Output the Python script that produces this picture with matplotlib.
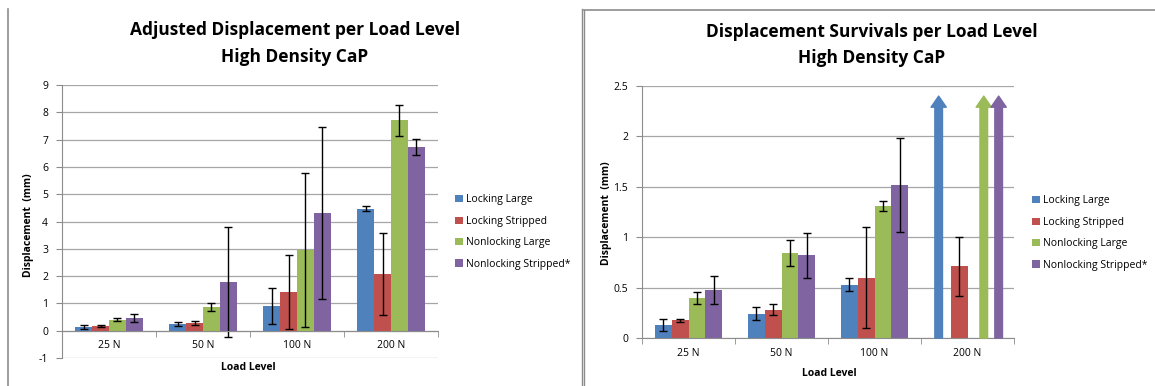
import matplotlib.pyplot as plt
import numpy as np
from matplotlib.lines import Line2D

# Data
loads = ['25 N', '50 N', '100 N', '200 N']
series = ['Locking Large', 'Locking Stripped', 'Nonlocking Large', 'Nonlocking Stripped*']
colors = ['#4F81BD', '#C0504D', '#9BBB59', '#8064A2']

# adjusted displacement (mm) and error
adj_locking_large = [0.15, 0.24, 0.90, 4.47]
adj_locking_stripped = [0.18, 0.28, 1.43, 2.08]
adj_nonlocking_large = [0.41, 0.87, 2.95, 7.70]
adj_nonlocking_stripped = [0.48, 1.78, 4.30, 6.73]
adj_err_locking_large = [0.07, 0.07, 0.66, 0.09]
adj_err_locking_stripped = [0.03, 0.07, 1.35, 1.50]
adj_err_nonlocking_large = [0.05, 0.14, 2.83, 0.57]
adj_err_nonlocking_stripped = [0.15, 2.02, 3.15, 0.28]

# displacement survivals (mm); None = arrow (survived past scale)
surv_locking_large = [0.13, 0.24, 0.53, None]
surv_locking_stripped = [0.175, 0.28, 0.60, 0.71]
surv_nonlocking_large = [0.40, 0.845, 1.31, None]
surv_nonlocking_stripped = [0.475, 0.82, 1.515, None]
surv_err_locking_large = [0.06, 0.066, 0.066, 0]
surv_err_locking_stripped = [0.017, 0.055, 0.50, 0.29]
surv_err_nonlocking_large = [0.06, 0.13, 0.05, 0]
surv_err_nonlocking_stripped = [0.14, 0.225, 0.465, 0]
arrow_top = 2.4

left_yticks = [-1, 0, 1, 2, 3, 4, 5, 6, 7, 8, 9]
right_yticks = [0, 0.5, 1, 1.5, 2, 2.5]
right_ylabels = ['0', '0.5', '1', '1.5', '2', '2.5']

adj_vals = [adj_locking_large, adj_locking_stripped, adj_nonlocking_large, adj_nonlocking_stripped]
adj_errs = [adj_err_locking_large, adj_err_locking_stripped, adj_err_nonlocking_large, adj_err_nonlocking_stripped]
surv_vals = [surv_locking_large, surv_locking_stripped, surv_nonlocking_large, surv_nonlocking_stripped]
surv_errs = [surv_err_locking_large, surv_err_locking_stripped, surv_err_nonlocking_large, surv_err_nonlocking_stripped]

plt.rcParams['font.family'] = ['Open Sans', 'DejaVu Sans']

W, H = 1155, 386
fig = plt.figure(figsize=(W / 100, H / 100), dpi=100)


def fx(px):
    return px / W


def fy(py):
    return 1 - py / H


# chart frames
fc = '#8c8c8c'
fig.add_artist(Line2D([fx(8), fx(8)], [0, fy(9)], color=fc, lw=1.2))
fig.add_artist(Line2D([fx(582), fx(582)], [0, fy(9)], color=fc, lw=1.0))
fig.add_artist(Line2D([fx(584), fx(584)], [0, fy(10)], color=fc, lw=1.0))
fig.add_artist(Line2D([fx(584), 1], [fy(10), fy(10)], color=fc, lw=1.2))

x = np.arange(len(loads))
w = 0.18
offsets = (np.arange(4) - 1.5) * w
arrow_shift = [-0.04, 0, 0.085, 0.065]
ekw = dict(ecolor='black', elinewidth=1, capsize=3, capthick=1)


def style_axes(ax, yticks, ylabels, ylim):
    ax.set_xlim(-0.5, len(loads) - 0.5)
    ax.set_ylim(*ylim)
    ax.set_yticks(yticks)
    ax.set_yticklabels(ylabels, fontsize=7.5)
    ax.yaxis.grid(True, color='#a6a6a6', lw=0.9)
    ax.set_axisbelow(True)
    for s in ['top', 'right']:
        ax.spines[s].set_visible(False)
    ax.spines['left'].set_color(fc)
    ax.spines['bottom'].set_color(fc)
    ax.spines['bottom'].set_position(('data', 0))
    ax.set_xticks(x)
    ax.set_xticklabels(loads, fontsize=7.5)
    ax.set_xticks(np.arange(len(loads) + 1) - 0.5, minor=True)
    ax.tick_params(axis='x', which='major', length=0, pad=7)
    ax.tick_params(axis='x', which='minor', length=4, color=fc)
    ax.tick_params(axis='y', length=4, color=fc, pad=6)
    ax.legend(loc='upper left', frameon=False, fontsize=7.5, handlelength=0.7,
              handleheight=0.7, handletextpad=0.3, labelspacing=1.0,
              bbox_transform=fig.transFigure)


# left chart
ax1 = fig.add_axes([fx(62), fy(358), fx(376), 273 / H])
for i in range(4):
    ax1.bar(x + offsets[i], adj_vals[i], w, color=colors[i], label=series[i],
            yerr=adj_errs[i], error_kw=ekw)
style_axes(ax1, left_yticks, [str(t) for t in left_yticks], (-1, 9))
ax1.get_legend().set_bbox_to_anchor((fx(446), fy(185)), transform=fig.transFigure)

# right chart
ax2 = fig.add_axes([fx(642), fy(338), fx(372), 252 / H])
for i in range(4):
    vals = surv_vals[i]
    pos = [x[j] + offsets[i] for j in range(4) if vals[j] is not None]
    hv = [v for v in vals if v is not None]
    ev = [surv_errs[i][j] for j in range(4) if vals[j] is not None]
    ax2.bar(pos, hv, w, color=colors[i], label=series[i], yerr=ev, error_kw=ekw)
    for j in range(4):
        if vals[j] is None:
            xa = x[j] + offsets[i] + arrow_shift[i]
            ax2.annotate('', xy=(xa, arrow_top), xytext=(xa, 0),
                         arrowprops=dict(arrowstyle='simple,head_length=0.8,head_width=1.1,tail_width=0.55',
                                         color=colors[i], shrinkA=0, shrinkB=0))
style_axes(ax2, right_yticks, right_ylabels, (0, 2.5))
ax2.get_legend().set_bbox_to_anchor((fx(1023), fy(186)), transform=fig.transFigure)

# titles and axis labels
tkw = dict(fontsize=12.5, fontweight='bold', ha='center', va='center')
fig.text(fx(295), fy(30), 'Adjusted Displacement per Load Level', **tkw)
fig.text(fx(295), fy(57), 'High Density CaP', **tkw)
fig.text(fx(872), fy(32), 'Displacement Survivals per Load Level', **tkw)
fig.text(fx(872), fy(58), 'High Density CaP', **tkw)

lkw = dict(fontsize=7.5, fontweight='bold', ha='center', va='center')
fig.text(fx(248), fy(368), 'Load Level', **lkw)
fig.text(fx(829), fy(374), 'Load Level', **lkw)
fig.text(fx(29), fy(225), 'Displacement  (mm)', rotation=90, **lkw)
fig.text(fx(607), fy(213), 'Displacement  (mm)', rotation=90, **lkw)

fig.savefig('out.png', dpi=100)
